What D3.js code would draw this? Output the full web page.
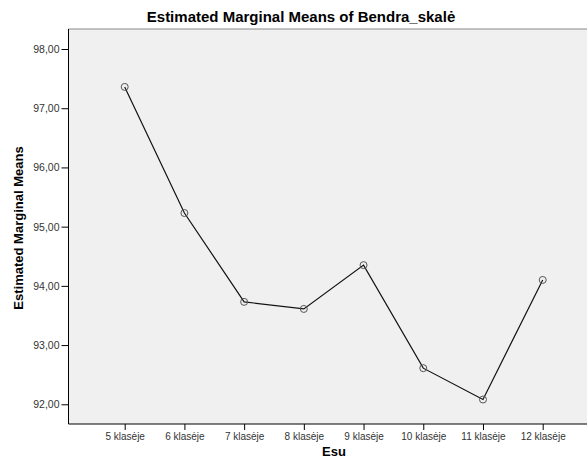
<!DOCTYPE html>
<html><head><meta charset="utf-8">
<script src="https://cdn.jsdelivr.net/npm/d3@7"></script>
<style>body{margin:0;background:#fff;} svg{display:block;font-family:"Liberation Sans",Arial,sans-serif;}</style>
</head><body>
<script>
const categories = ["5 klasėje","6 klasėje","7 klasėje","8 klasėje","9 klasėje","10 klasėje","11 klasėje","12 klasėje"];
const means = [97.36, 95.23, 93.73, 93.61, 94.35, 92.61, 92.08, 94.10];
const yTicks = [92, 93, 94, 95, 96, 97, 98];
const titleText = "Estimated Marginal Means of Bendra_skalė";
const xTitle = "Esu";
const yTitle = "Estimated Marginal Means";

const W = 587, H = 465;
const plot = {left: 68.5, top: 29, right: 600, bottom: 424};
const svg = d3.select("body").append("svg").attr("width", W).attr("height", H);

const x = d3.scalePoint().domain(categories).range([124.7, 542.7]);
const y = d3.scaleLinear().domain([91.667, 98.338]).range([plot.bottom, plot.top]);

svg.append("rect").attr("x", plot.left).attr("y", plot.top)
  .attr("width", plot.right - plot.left).attr("height", plot.bottom - plot.top)
  .attr("fill", "#f0f0f0");
svg.append("line").attr("x1", plot.left).attr("x2", plot.right)
  .attr("y1", plot.top).attr("y2", plot.top).attr("stroke", "#888").attr("stroke-width", 1);

const fmt = d => d.toFixed(2).replace(".", ",");
const yAxis = svg.append("g").attr("transform", `translate(${plot.left},0)`)
  .call(d3.axisLeft(y).tickValues(yTicks).tickFormat(fmt).tickSize(7).tickPadding(2));
const xAxis = svg.append("g").attr("transform", `translate(0,${plot.bottom})`)
  .call(d3.axisBottom(x).tickSize(6).tickPadding(3));
[yAxis, xAxis].forEach(a => {
  a.select(".domain").remove();
  a.selectAll(".tick line").attr("stroke", "#000");
  a.selectAll(".tick text").attr("fill", "#333")
    .attr("font-family", "Liberation Sans, Arial, sans-serif");
});
yAxis.selectAll(".tick text").attr("font-size", "10.5px");
xAxis.selectAll(".tick text").attr("font-size", "10px");
svg.append("line").attr("x1", plot.left).attr("x2", plot.left)
  .attr("y1", plot.top).attr("y2", plot.bottom).attr("stroke", "#000");
svg.append("line").attr("x1", plot.left).attr("x2", plot.right)
  .attr("y1", plot.bottom).attr("y2", plot.bottom).attr("stroke", "#000");

const pts = categories.map((c, i) => ({c, v: means[i]}));
svg.append("path").datum(pts)
  .attr("d", d3.line().x(d => x(d.c)).y(d => y(d.v)))
  .attr("fill", "none").attr("stroke", "#111").attr("stroke-width", 1.2);
svg.selectAll("circle.pt").data(pts).join("circle").attr("class", "pt")
  .attr("cx", d => x(d.c)).attr("cy", d => y(d.v)).attr("r", 3.5)
  .attr("fill", "none").attr("stroke", "#555").attr("stroke-width", 1);

svg.append("text").attr("x", 301).attr("y", 22).attr("text-anchor", "middle")
  .attr("font-size", "15px").attr("font-weight", "bold").attr("fill", "#000").text(titleText);
svg.append("text").attr("x", 334).attr("y", 456).attr("text-anchor", "middle")
  .attr("font-size", "13px").attr("font-weight", "bold").attr("fill", "#000").text(xTitle);
svg.append("text").attr("transform", "translate(23,228) rotate(-90)").attr("text-anchor", "middle")
  .attr("font-size", "13px").attr("font-weight", "bold").attr("fill", "#000").text(yTitle);
</script>
</body></html>
